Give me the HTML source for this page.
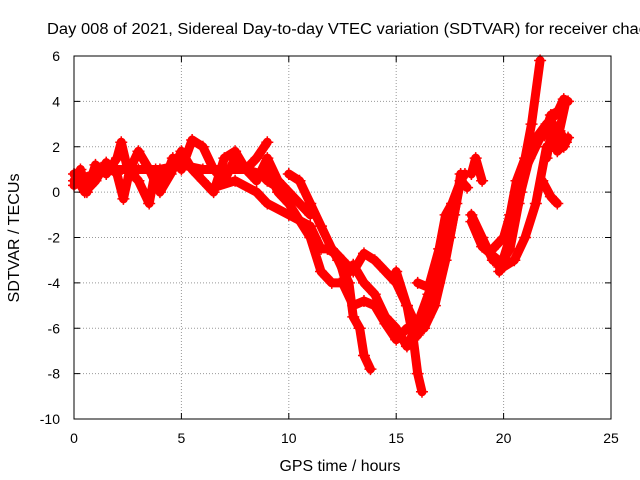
<!DOCTYPE html>
<html><head><meta charset="utf-8"><style>
body{margin:0;background:#fff;width:640px;height:480px;overflow:hidden}
svg{display:block;font-family:"Liberation Sans",sans-serif}
</style></head><body>
<svg id="c" width="640" height="480">
<text x="47" y="34" font-size="15.5" textLength="600" lengthAdjust="spacingAndGlyphs" fill="#000">Day 008 of 2021, Sidereal Day-to-day VTEC variation (SDTVAR) for receiver chac</text>
<text x="340" y="471" font-size="15.5" text-anchor="middle" textLength="121" lengthAdjust="spacingAndGlyphs">GPS time / hours</text>
<text transform="translate(19,238) rotate(-90)" font-size="15.5" text-anchor="middle" textLength="129" lengthAdjust="spacingAndGlyphs">SDTVAR / TECUs</text>
<g id="grid"></g><g id="marks"></g><g id="axes"></g>
</svg>
<script>
const xTicks=[0,5,10,15,20,25];
const yTicks=[6,4,2,0,-2,-4,-6,-8,-10];
const t1x=[0,0.3,0.6,1,1.5,2,2.2,2.5,3,3.5,3.8,4.2,4.6,5,5.5,6,6.5,7,7.5,8,8.5,9];
const t1y=[0.3,1,0,1.2,0.8,1.5,2.2,1,0.5,-0.5,1,0.5,1.5,1,2.3,2,1,0.5,1.5,1,1.5,2.2];
const t2x=[0,0.5,1,1.5,2,2.3,2.6,3,3.5,4,4.5,5,5.5,6,6.5,7,7.5,8,8.5,9,9.5,10,10.5,11];
const t2y=[0.8,0,0.5,1.3,0.8,-0.3,1,1.8,1,0,0.8,1.8,1,0.5,0,1.5,1.8,1,0.5,1.5,0.5,0,-0.5,-1];
const t3x=[6.5,7.5,8.5,9,10,11,11.5,12,12.5,13,13.5,14,14.5,15,15.5,16];
const t3y=[0.2,0.5,0,-0.5,-1,-1.5,-2.5,-2.5,-3,-3.5,-2.7,-3,-3.5,-4,-5,-6];
const t4x=[9,9.5,10,11,11.5,12,12.5,13,13.5,14,14.5,15,15.5,16,16.5,17,17.5,17.8,18];
const t4y=[1,0,-0.5,-2,-3.5,-4,-4,-5,-4.8,-5,-5.8,-6.5,-6,-6.3,-5.5,-4,-2,-0.5,0.8];
const t5x=[10,10.5,11,11.5,12,12.3,12.8,13,13.3,13.5,13.8];
const t5y=[0.8,0.5,-0.5,-1.5,-2.5,-3,-4,-5.5,-6,-7.2,-7.8];
const t6x=[11.8,12.3,12.6,13,13.5,14,14.5,15,15.5,16,16.5,17,17.5,18,18.3];
const t6y=[-2.5,-2.8,-3.8,-3.2,-4,-4.5,-5.5,-6,-6.8,-5.8,-4.5,-3,-1,0.5,0.2];
const t7x=[15,15.5,15.8,16,16.2];
const t7y=[-3.5,-5,-6.5,-8,-8.8];
const t8x=[16,16.5,17,17.3,17.6,18,18.2];
const t8y=[-4,-4.2,-2.5,-1,-0.5,0.5,0.8];
const t9x=[18.5,18.7,19];
const t9y=[0.8,1.5,0.5];
const t10x=[18.5,19,19.5,20,20.5,21,21.5,22];
const t10y=[-1,-2,-3,-3.3,-3,-2,-0.5,2];
const t11x=[19.5,20,20.3,20.6,21,21.3,21.7];
const t11y=[-2.5,-2,-1,0.5,1.5,3,5.8];
const t12x=[19.8,20.3,20.7,21,21.5,22,22.5,22.8,23];
const t12y=[-3.5,-2,-0.5,1,2,3,3.5,4.1,4];
const t13x=[22,22.3,22.5,22.8,23];
const t13y=[1.5,3,2.5,2,2.4];
const t14x=[21.8,22.2,22.5];
const t14y=[0.5,-0.2,-0.5];
const t15x=[18.5,19,19.5,20];
const t15y=[-1.3,-2.4,-2.8,-3.2];
const t16x=[0,1,2,3,4,5,6,7,8,8.7,9,9.5];
const t16y=[0.5,0.8,1,1,1,1.2,1,1,1,0.8,0.5,0.2];
const t17x=[16.3,16.8,17.3,17.7,18];
const t17y=[-6,-5,-3,-1,0.5];
const t18x=[19.8,20.3,20.8,21.2,21.6,22];
const t18y=[-3.3,-2.5,0,1.5,2.5,3];
const t19x=[21.9,22.2,22.6,22.9,22.6,22.9,22.5,22.3];
const t19y=[2.5,3.4,3.6,4,2.7,2.2,1.8,2.8];
const tracks=[[t1x,t1y],[t2x,t2y],[t3x,t3y],[t4x,t4y],[t5x,t5y],[t6x,t6y],[t7x,t7y],[t8x,t8y],[t9x,t9y],[t10x,t10y],[t11x,t11y],[t12x,t12y],[t13x,t13y],[t14x,t14y],[t15x,t15y],[t16x,t16y],[t17x,t17y],[t18x,t18y],[t19x,t19y]];
const L=74,R=611,T=56,B=419;
const X=v=>L+(v-0)/25*(R-L);
const Y=v=>T+(6-v)/16*(B-T);
const NS="http://www.w3.org/2000/svg";
function mk(tag,attrs,parent){const e=document.createElementNS(NS,tag);for(const k in attrs)e.setAttribute(k,attrs[k]);parent.appendChild(e);return e;}
const grid=document.getElementById('grid'),axes=document.getElementById('axes'),marks=document.getElementById('marks');
xTicks.forEach(t=>{
 if(t>0&&t<25){const g=mk('line',{x1:X(t),x2:X(t),y1:T,y2:B,stroke:'#999','stroke-dasharray':'1,2'},grid);
 
 }
 mk('line',{x1:X(t),x2:X(t),y1:B,y2:B-6,stroke:'#000'},axes);
 mk('line',{x1:X(t),x2:X(t),y1:T,y2:T+6,stroke:'#000'},axes);
 const tx=mk('text',{x:X(t),y:B+24,'font-size':14,'text-anchor':'middle'},axes);tx.textContent=t;
 
 
});
yTicks.forEach(t=>{
 if(t>-10&&t<6){const g=mk('line',{x1:L,x2:R,y1:Y(t),y2:Y(t),stroke:'#999','stroke-dasharray':'1,2'},grid);
 
 }
 mk('line',{x1:L,x2:L+6,y1:Y(t),y2:Y(t),stroke:'#000'},axes);
 mk('line',{x1:R,x2:R-6,y1:Y(t),y2:Y(t),stroke:'#000'},axes);
 const tx=mk('text',{x:L-14,y:Y(t)+5,'font-size':14,'text-anchor':'end'},axes);tx.textContent=t;
 
 
});
const fr=mk('rect',{x:L,y:T,width:R-L,height:B-T,fill:'none',stroke:'#000'},axes);


tracks.forEach(([xs,ys])=>{
 const pts=xs.map((x,i)=>X(x)+','+Y(ys[i])).join(' ');
 const pl=mk('polyline',{points:pts,fill:'none',stroke:'#f00','stroke-width':9,'stroke-linejoin':'round','stroke-linecap':'round'},marks);
 
 
 xs.forEach((x,i)=>{
  const p=mk('path',{d:`M${X(x)-6},${Y(ys[i])}h12M${X(x)},${Y(ys[i])-6}v12`,stroke:'#f00','stroke-width':1.5},marks);
  
  
 });
});
</script>
</body></html>
